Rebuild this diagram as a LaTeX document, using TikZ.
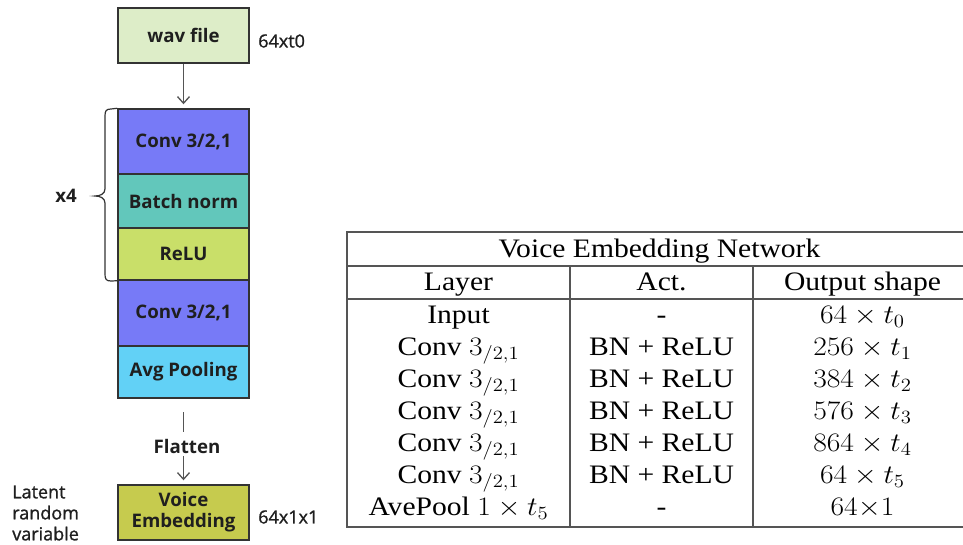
\RequirePackage{fix-cm}
\documentclass[tikz,border=0pt]{standalone}
\usepackage[no-math]{fontspec}
\usepackage{graphicx}
\setmainfont{Liberation Serif}
\newfontfamily\diagfont{Open Sans}
\newfontfamily\diagsemi{Open Sans}[FakeBold=1.2]
\usetikzlibrary{arrows.meta}

\definecolor{wavfill}{HTML}{DDEDC8}
\definecolor{convfill}{HTML}{777AF7}
\definecolor{bnfill}{HTML}{62C7BB}
\definecolor{relufill}{HTML}{C9DF69}
\definecolor{poolfill}{HTML}{62D1F6}
\definecolor{embfill}{HTML}{C6CB4E}
\definecolor{boxline}{HTML}{333333}
\definecolor{arrowgray}{HTML}{555555}
\definecolor{rulegray}{HTML}{555555}

% table text is set slightly wide
\newcommand{\wide}[1]{\scalebox{1.11}[1]{#1}}

\begin{document}
\begin{tikzpicture}[x=0.75pt,y=-0.75pt,
  layer/.style={draw=boxline, line width=1.1pt, minimum width=98.25pt,
    inner sep=0pt, align=center, text=black!88,
    font=\diagfont\bfseries\fontsize{14}{15.75}\selectfont},
  flow/.style={draw=arrowgray, line width=1pt,
    -{Straight Barb[length=5pt,width=9pt]}},
  side/.style={font=\diagsemi\fontsize{13.5}{15.75}\selectfont, text=black!88},
  sidebold/.style={font=\diagfont\bfseries\fontsize{14}{16}\selectfont, text=black!88},
  cell/.style={font=\fontsize{20}{24}\selectfont, inner sep=0pt, anchor=base},
  rule/.style={draw=rulegray, line width=1.1pt}]
\useasboundingbox (0,0) rectangle (963,544);

% ---------- layer stack ----------
\node[layer, fill=wavfill,  minimum height=41.25pt] (wav)   at (183.5,35.5) {wav file};
\node[layer, fill=convfill, minimum height=48.75pt] (conv1) at (183.5,141.5) {Conv 3/2,1};
\node[layer, fill=bnfill,   minimum height=40.5pt]  (bn)    at (183.5,201)   {Batch norm};
\node[layer, fill=relufill, minimum height=39pt]    (relu)  at (183.5,254)   {ReLU};
\node[layer, fill=convfill, minimum height=49.5pt]  (conv2) at (183.5,313)   {Conv 3/2,1};
\node[layer, fill=poolfill, minimum height=39pt]    (pool)  at (183.5,372)   {Avg Pooling};
\node[layer, fill=embfill,  minimum height=41.25pt] (emb)   at (183.5,512.5) {Voice\\Embedding};

\node[side, anchor=west, inner sep=0pt] (shape-in)  at (258,41)  {64xt0};
\node[side, anchor=west, inner sep=0pt] (shape-out) at (258,517) {64x1x1};
\node[side, anchor=west, align=left, inner sep=0pt] (latent) at (12,513) {Latent\\random\\variable};

% input arrow
\draw[flow, shorten >=3pt] (wav.south) -- (conv1.north);

% flatten step
\node[sidebold, inner sep=0pt] (flat) at (187,446) {Flatten};
\coordinate (flat-top) at (183.5,412);
\coordinate (flat-in) at (183.5,432);
\coordinate (flat-out) at (183.5,456);
\draw[arrowgray, line width=1pt] (flat-top) -- (flat-in);
\draw[flow, shorten >=3pt] (flat-out) -- (emb.north);

% repeat brace
\coordinate (tip) at (95,196);
\draw[boxline, line width=0.9pt]
  (conv1.north west) -- (111,109) .. controls (106,109) and (105,111) .. (105,116)
  -- (105,189) .. controls (105,194) and (100,196) .. (tip)
  .. controls (100,196) and (105,198) .. (105,203)
  -- (105,274) .. controls (105,279) and (106,281) .. (111,281) -- (relu.south west);
\node[sidebold] (rep) at (66,196) {x4};

% ---------- table ----------
\coordinate (tl) at (347,232);
\coordinate (bl) at (347,527);
\coordinate (tr) at (963,232);
\coordinate (br) at (963,527);
\draw[rule] (tr) -- (tl) -- (bl) -- (br);
\draw[rule] (347,266) -- (963,266);
\draw[rule] (347,299) -- (963,299);
\draw[rule] (570,266) -- (570,527);
\draw[rule] (753,266) -- (753,527);

\node[cell] (title) at (659.5,257) {\wide{Voice Embedding Network}};
\node[cell] (h1) at (458.5,290) {\wide{Layer}};
\node[cell] (h2) at (661.5,290) {\wide{Act.}};
\node[cell] (h3) at (862.5,290) {\wide{Output shape}};

\foreach \i/\la/\act/\out in {
  1/Input/-/{$64\times t_0$},
  2/{Conv $3_{/2,1}$}/BN + ReLU/{$256\times t_1$},
  3/{Conv $3_{/2,1}$}/BN + ReLU/{$384\times t_2$},
  4/{Conv $3_{/2,1}$}/BN + ReLU/{$576\times t_3$},
  5/{Conv $3_{/2,1}$}/BN + ReLU/{$864\times t_4$},
  6/{Conv $3_{/2,1}$}/BN + ReLU/{$64\times t_5$},
  7/{AvePool $1\times t_5$}/-/{$64{\times}1$}}{
  \pgfmathsetmacro{\yy}{323+32*(\i-1)}
  \node[cell] (r\i c1) at (458.5,\yy) {\wide{\la}};
  \node[cell] (r\i c2) at (661.5,\yy) {\wide{\act}};
  \node[cell] (r\i c3) at (862.5,\yy) {\wide{\out}};
}
\end{tikzpicture}
\end{document}
